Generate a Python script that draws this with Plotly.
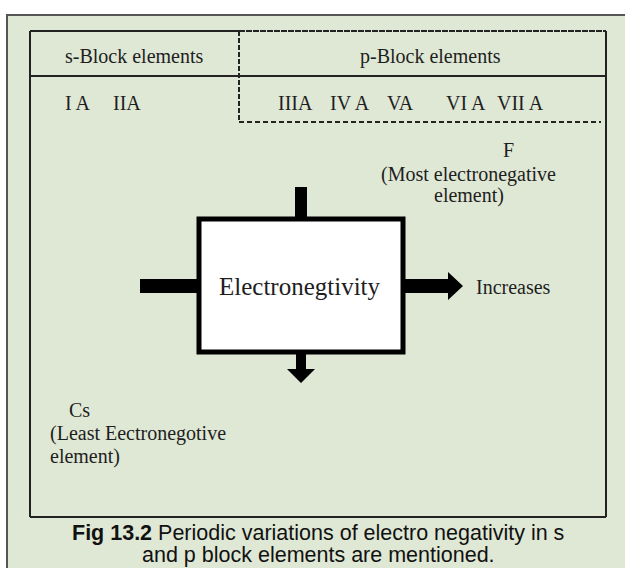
import plotly.graph_objects as go

# ---- content ----
header_labels = ["s-Block elements", "p-Block elements"]
group_labels = ["I A", "IIA", "IIIA", "IV A", "VA", "VI A", "VII A"]
centre_label = "Electronegtivity"
trend_label = "Increases"
most_label = ["F", "(Most electronegative", "element)"]
least_label = ["Cs", "(Least Eectronegotive", "element)"]
caption_lines = ["<b>Fig 13.2</b> Periodic variations of electro negativity in s",
                 "and p block elements are mentioned."]

# ---- layout positions (pixels) ----
W, H = 625, 568
header_x = [134, 430]
header_y = 56
group_x = [78, 127, 295, 350, 400, 466, 520]
group_y = 103
caption_y = [533, 555]

SERIF = "Liberation Serif"
SANS = "Liberation Sans"
INK = "#1e1e1e"
BG = "#dfe8d5"

fig = go.Figure()
shapes = []

def line(x0, y0, x1, y1, width=2, color="#222222", dash="solid"):
    shapes.append(dict(type="line", xref="x", yref="y", x0=x0, y0=y0, x1=x1, y1=y1,
                       line=dict(color=color, width=width, dash=dash)))

# outer frame
shapes.append(dict(type="rect", xref="x", yref="y", x0=7, y0=15, x1=640, y1=590,
                   fillcolor=BG, line=dict(color="#555555", width=2), layer="below"))
# inner box
line(30, 31, 30, 517)
line(30, 517, 606, 517)
line(606, 31, 606, 517)
line(30, 31, 239, 31)
line(239, 31, 606, 31, dash="6px,1px")
line(30, 76, 606, 76)
line(239, 31, 239, 122, dash="5px,2px")
line(239, 122, 601, 122, dash="5px,3px")

# central box and arrows
shapes.append(dict(type="rect", xref="x", yref="y", x0=199, y0=219, x1=403, y1=352,
                   fillcolor="white", line=dict(color="black", width=5)))
shapes.append(dict(type="rect", xref="x", yref="y", x0=295, y0=187, x1=307, y1=217,
                   fillcolor="black", line=dict(width=0)))
shapes.append(dict(type="rect", xref="x", yref="y", x0=140, y0=279, x1=197, y1=293,
                   fillcolor="black", line=dict(width=0)))
shapes.append(dict(type="path", xref="x", yref="y",
                   path="M 404 279 L 448 279 L 448 272 L 463 286 L 448 300 L 448 293 L 404 293 Z",
                   fillcolor="black", line=dict(width=0)))
shapes.append(dict(type="path", xref="x", yref="y",
                   path="M 296 353 L 306 353 L 306 369 L 315 369 L 301 383 L 287 369 L 296 369 Z",
                   fillcolor="black", line=dict(width=0)))

ann = []
def text(x, y, s, size=20, anchor="center", font=SERIF, color=INK):
    ann.append(dict(x=x, y=y, xref="x", yref="y", text=s, showarrow=False,
                    xanchor=anchor, yanchor="middle",
                    font=dict(family=font, size=size, color=color)))

for lbl, x in zip(header_labels, header_x):
    text(x, header_y, lbl)
for lbl, x in zip(group_labels, group_x):
    text(x, group_y, lbl)

text(508, 150, most_label[0])
text(468, 174, most_label[1])
text(469, 195, most_label[2])
text(300, 286, centre_label, size=25)
text(474, 287, trend_label, anchor="left")
text(79, 410, least_label[0])
text(48, 433, least_label[1], anchor="left")
text(48, 456, least_label[2], anchor="left")

for s, y in zip(caption_lines, caption_y):
    text(318, y, s, size=21.5, font=SANS, color="#111111")

fig.update_layout(
    width=W, height=H, autosize=False,
    margin=dict(l=0, r=0, t=0, b=0),
    paper_bgcolor="white", plot_bgcolor="white",
    shapes=shapes, annotations=ann, showlegend=False,
    xaxis=dict(range=[0, W], visible=False, fixedrange=True),
    yaxis=dict(range=[H, 0], visible=False, fixedrange=True),
)
fig.write_html("out.html", config={"displayModeBar": False},
               post_script="document.body.style.margin='0';document.body.style.overflow='hidden';")
